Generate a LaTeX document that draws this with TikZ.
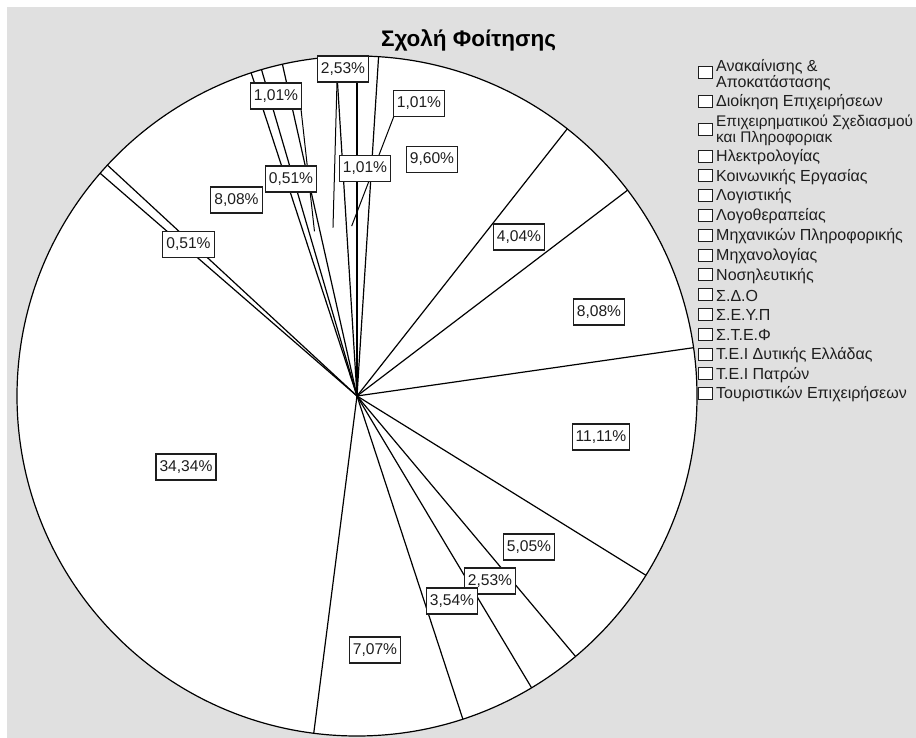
\documentclass[tikz,border=0pt]{standalone}
\usepackage{fontspec}
\setmainfont{Liberation Sans}
\usepackage{xcolor}
\usepackage{tikz}
\usetikzlibrary{positioning}

\definecolor{chartgray}{HTML}{E0E0E0}
\definecolor{ink}{HTML}{1E1E1E}

\tikzset{
  pct/.style={draw=ink, line width=1.1pt, fill=white, text=ink,
    font=\fontsize{15.6}{16}\selectfont, inner xsep=3.5pt, inner ysep=0pt,
    minimum height=26pt},
  legbox/.style={draw=ink, line width=0.9pt, fill=white,
    minimum width=14pt, minimum height=12pt, inner sep=0pt},
  legtext/.style={anchor=west, inner sep=0pt, align=left, text=ink,
    font=\fontsize{16}{15.5}\selectfont},
  slice/.style={line width=1.2pt},
  leader/.style={line width=1pt}
}

\begin{document}
\begin{tikzpicture}[x=1pt, y=-1pt]
\useasboundingbox (0,0) rectangle (916,738);
\fill[white] (0,0) rectangle (916,738);
\fill[chartgray] (7,7) rectangle (916,738);

% title
\node[font=\fontsize{22.5}{23}\selectfont\bfseries, inner sep=0pt] (title) at (468.5,40.5) {Σχολή Φοίτησης};

% pie, slices clockwise from 12 o'clock
\begin{scope}[shift={(357,396)}]
    \draw[fill=white, slice] (0,0) circle (340);
    \draw[slice] (0,0) -- (-90:340);
    \draw[slice] (0,0) -- (-86.36:340);
    \draw[slice] (0,0) -- (-51.80:340);
    \draw[slice] (0,0) -- (-37.26:340);
    \draw[slice] (0,0) -- (-8.17:340);
    \draw[slice] (0,0) -- (31.82:340);
    \draw[slice] (0,0) -- (50.00:340);
    \draw[slice] (0,0) -- (59.11:340);
    \draw[slice] (0,0) -- (71.86:340);
    \draw[slice] (0,0) -- (97.31:340);
    \draw[slice] (0,0) -- (220.93:340);
    \draw[slice] (0,0) -- (222.77:340);
    \draw[slice] (0,0) -- (251.86:340);
    \draw[slice] (0,0) -- (253.69:340);
    \draw[slice] (0,0) -- (257.33:340);
    \draw[slice] (0,0) -- (266.44:340);
    % ends of the leader lines
    \coordinate (t14) at (255.51:170);
    \coordinate (t15) at (261.88:170);
    \coordinate (t16) at (268.20:170);
\end{scope}

% leader lines (under the labels)
\draw[leader] (301,109) -- (t14);
\draw[leader] (337,82) -- (t15);
\draw[leader] (394,116) -- (t16);

% percentage labels
\node[pct] (s1) at (365,168.5) {1,01\%};
\node[pct] (s2) at (432,159.5) {9,60\%};
\node[pct] (s3) at (519,237) {4,04\%};
\node[pct] (s4) at (599,312) {8,08\%};
\node[pct] (s5) at (601,437) {11,11\%};
\node[pct] (s6) at (529,547) {5,05\%};
\node[pct] (s7) at (490,581) {2,53\%};
\node[pct] (s8) at (452,601) {3,54\%};
\node[pct] (s9) at (375,650) {7,07\%};
\node[pct] (s10) at (186,467) {34,34\%};
\node[pct] (s11) at (188.5,244.5) {0,51\%};
\node[pct] (s12) at (236.5,200) {8,08\%};
\node[pct] (s13) at (291,179) {0,51\%};
\node[pct] (s14) at (276,96) {1,01\%};
\node[pct] (s15) at (343,69) {2,53\%};
\node[pct] (s16) at (419,103.5) {1,01\%};

% legend
\node[legbox] (b1) at (705,72.5) {};
\node[legtext] (e1) at (716,74.9) {Ανακαίνισης \&\\Αποκατάστασης};
\node[legbox] (b2) at (705,101.5) {};
\node[legtext] (e2) at (716,102.6) {Διοίκηση Επιχειρήσεων};
\node[legbox] (b3) at (705,129) {};
\node[legtext, font=\fontsize{15.4}{15.8}\selectfont] (e3) at (716,130.6) {Επιχειρηματικού Σχεδιασμού\\και Πληροφοριακ};
\node[legbox] (b4) at (705,156) {};
\node[legtext] (e4) at (716,157) {Ηλεκτρολογίας};
\node[legbox] (b5) at (705,175.8) {};
\node[legtext] (e5) at (716,176.8) {Κοινωνικής Εργασίας};
\node[legbox] (b6) at (705,195.6) {};
\node[legtext] (e6) at (716,196.6) {Λογιστικής};
\node[legbox] (b7) at (705,215.4) {};
\node[legtext] (e7) at (716,216.4) {Λογοθεραπείας};
\node[legbox] (b8) at (705,235.2) {};
\node[legtext] (e8) at (716,236.2) {Μηχανικών Πληροφορικής};
\node[legbox] (b9) at (705,255) {};
\node[legtext] (e9) at (716,256) {Μηχανολογίας};
\node[legbox] (b10) at (705,274.8) {};
\node[legtext] (e10) at (716,275.8) {Νοσηλευτικής};
\node[legbox] (b11) at (705,294.6) {};
\node[legtext] (e11) at (716,295.6) {Σ.Δ.Ο};
\node[legbox] (b12) at (705,314.4) {};
\node[legtext] (e12) at (716,315.4) {Σ.Ε.Υ.Π};
\node[legbox] (b13) at (705,334.2) {};
\node[legtext] (e13) at (716,335.2) {Σ.Τ.Ε.Φ};
\node[legbox] (b14) at (705,354) {};
\node[legtext] (e14) at (716,355) {Τ.Ε.Ι Δυτικής Ελλάδας};
\node[legbox] (b15) at (705,373.8) {};
\node[legtext] (e15) at (716,374.8) {Τ.Ε.Ι Πατρών};
\node[legbox] (b16) at (705,393.6) {};
\node[legtext] (e16) at (716,394.6) {Τουριστικών Επιχειρήσεων};
\end{tikzpicture}
\end{document}
